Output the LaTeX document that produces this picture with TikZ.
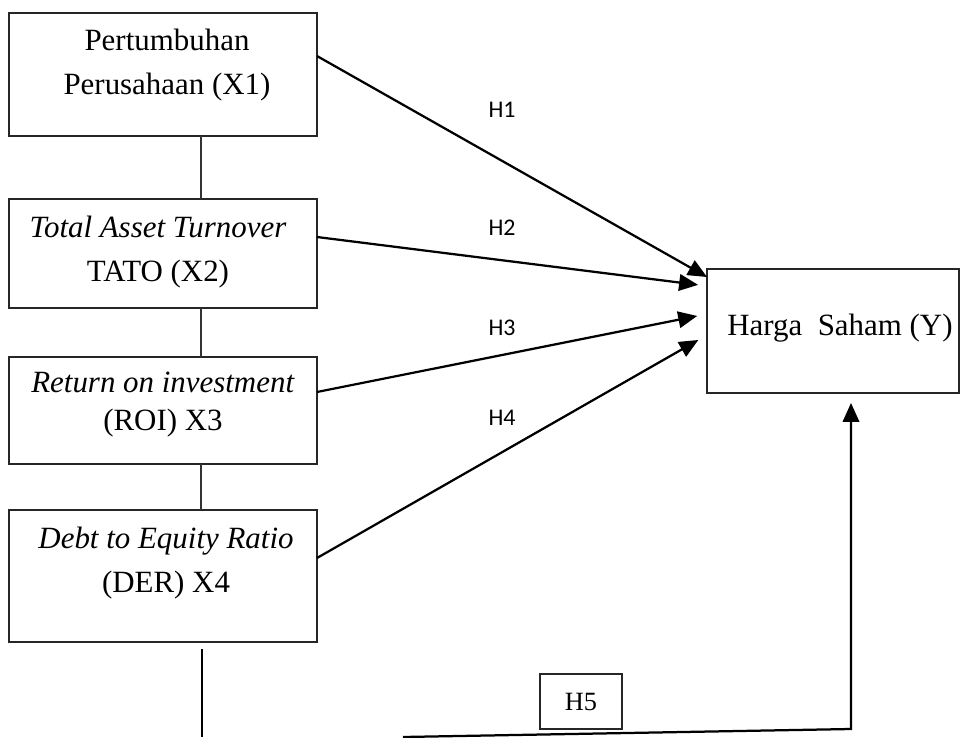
\documentclass[tikz,border=0pt]{standalone}
\usepackage{fontspec}
\setmainfont{Liberation Serif}
\newfontfamily\labelfont{Carlito}
\usetikzlibrary{arrows.meta}

\tikzset{
  varbox/.style={draw=black!85, line width=0.03cm, inner sep=0pt, outer sep=0pt, minimum width=6.16cm},
  vartext/.style={align=center, font=\fontsize{17.6}{25}\selectfont, inner sep=0pt},
  hyp/.style={font=\labelfont\fontsize{13.6}{16}\selectfont, inner sep=0pt},
  link/.style={draw=black!80, line width=0.03cm},
  arr/.style={line width=0.045cm, -{Triangle[length=0.38cm,width=0.33cm]}},
}

\begin{document}
\begin{tikzpicture}[x=0.02cm,y=-0.02cm]
\useasboundingbox (0,0) rectangle (960,737);

% variables X
\node[varbox, minimum height=2.46cm] (x1) at (163,74.5) {};
\node[varbox, minimum height=2.18cm] (x2) at (163,253.5) {};
\node[varbox, minimum height=2.14cm] (x3) at (163,410.5) {};
\node[varbox, minimum height=2.64cm] (x4) at (163,576) {};

\node[vartext] (x1t) at (167,65) {Pertumbuhan\\Perusahaan (X1)};
\node[vartext] (x2t) at (158,252.5) {\textit{Total Asset Turnover}\\TATO (X2)};
\node[vartext, font=\fontsize{17.6}{21.6}\selectfont] (x3t) at (163,405) {\textit{Return on investment}\\(ROI) X3};
\node[vartext] (x4t) at (166,563) {\textit{Debt to Equity Ratio}\\(DER) X4};

\draw[link] (x1.south -| 201,0) -- (x2.north -| 201,0);
\draw[link] (x2.south -| 201,0) -- (x3.north -| 201,0);
\draw[link] (x3.south -| 201,0) -- (x4.north -| 201,0);

% variable Y
\node[varbox, minimum width=5.04cm, minimum height=2.48cm] (hy) at (833,331) {};
\node[vartext] (hyt) at (840,328) {Harga\ \ Saham (Y)};

\draw[arr] (x1.east |- 0,56) -- (hy.west |- 0,277);
\draw[arr, shorten >=0.18cm] (x2.east |- 0,237) -- (hy.west |- 0,286);
\draw[arr, shorten >=0.2cm] (x3.east |- 0,392) -- (hy.west |- 0,314);
\draw[arr, shorten >=0.2cm] (x4.east |- 0,558) -- (hy.west |- 0,335);

\node[hyp] (h1) at (502,110) {H1};
\node[hyp] (h2) at (502,228) {H2};
\node[hyp] (h3) at (502,328) {H3};
\node[hyp] (h4) at (502,418) {H4};

% simultaneous path
\node[varbox, minimum width=1.64cm, minimum height=1.1cm, font=\fontsize{15}{17}\selectfont] (h5) at (581,701.5) {H5};

\coordinate (d1) at (202,649);
\coordinate (d2) at (202,737);
\draw[line width=0.045cm] (d1) -- (d2);

\coordinate (b1) at (403,737);
\coordinate (b2) at (851,729);
\draw[arr, shorten >=0.2cm] (b1) -- (b2) -- (b2 |- hy.south);

\end{tikzpicture}
\end{document}
